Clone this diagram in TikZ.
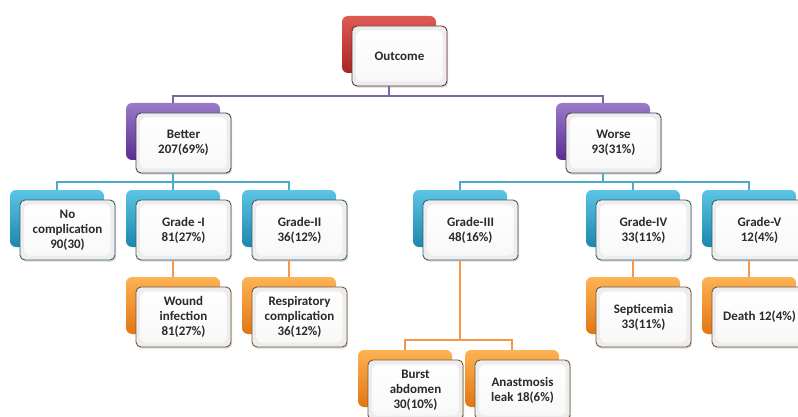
\documentclass[tikz,border=0pt]{standalone}
\usepackage{fontspec}
\setmainfont{Carlito}
\usetikzlibrary{shadows}
\definecolor{redA}{HTML}{E05A55}\definecolor{redB}{HTML}{A82424}
\definecolor{purA}{HTML}{9A7AC8}\definecolor{purB}{HTML}{5A2D92}
\definecolor{cyaA}{HTML}{5CC4E4}\definecolor{cyaB}{HTML}{1C86AE}
\definecolor{oraA}{HTML}{FDB254}\definecolor{oraB}{HTML}{E27612}
\definecolor{redE}{HTML}{6E3232}\definecolor{purE}{HTML}{4C3E5E}
\definecolor{cyaE}{HTML}{3A5F6C}\definecolor{oraE}{HTML}{7A5636}
\definecolor{purL}{HTML}{8064A2}\definecolor{cyaL}{HTML}{4BACC6}\definecolor{oraL}{HTML}{F79646}
\definecolor{txt}{HTML}{2A2A2A}
\tikzset{
  backbox/.style={rounded corners=6pt, minimum width=94pt, minimum height=57pt, inner sep=0pt, draw=none},
  frontbox/.style={rounded corners=5pt, minimum width=95pt, minimum height=60pt, inner sep=1pt,
    align=center, text=txt, font=\fontsize{13}{15}\selectfont\bfseries, line width=0.9pt,
    fill=gray!14, drop shadow={shadow xshift=1.2pt, shadow yshift=-1.6pt, opacity=0.3},
    path picture={\shade[top color=white, bottom color=gray!6]
      ([shift={(4.5pt,4.5pt)}]path picture bounding box.south west) rectangle
      ([shift={(-4.5pt,-4.5pt)}]path picture bounding box.north east);}},
  redback/.style={top color=redA, bottom color=redB}, redfront/.style={draw=redE},
  purback/.style={top color=purA, bottom color=purB}, purfront/.style={draw=purE},
  cyaback/.style={top color=cyaA, bottom color=cyaB}, cyafront/.style={draw=cyaE},
  oraback/.style={top color=oraA, bottom color=oraB}, orafront/.style={draw=oraE},
  conn/.style={line width=2.8pt},
}
\newcommand{\obox}[5]{%
  \node[backbox, #4back] (#1-b) at (#2+47, #3+28.5) {};
  \node[frontbox, #4front] (#1) at (#2+57.5, #3+40) {#5};}
\begin{document}
\begin{tikzpicture}[x=1pt, y=-1pt]
\useasboundingbox (0,0) rectangle (798,417);
\fill[white] (0,0) rectangle (798,417);
\clip (0,0) rectangle (798,417);
\coordinate (L1) at (0,96);
\coordinate (L2) at (0,182);
\coordinate (L3) at (0,340);
% boxes
\obox{out}{342}{16}{red}{Outcome}
\obox{bet}{126}{103}{pur}{Better\\207(69\%)}
\obox{wor}{556}{103}{pur}{Worse\\93(31\%)}
\obox{noc}{10}{190}{cya}{No\\complication\\90(30)}
\obox{g1}{126}{190}{cya}{Grade -I\\81(27\%)}
\obox{g2}{242}{190}{cya}{Grade-II\\36(12\%)}
\obox{g3}{413}{190}{cya}{Grade-III\\48(16\%)}
\obox{g4}{586}{190}{cya}{Grade-IV\\33(11\%)}
\obox{g5}{702}{190}{cya}{Grade-V\\12(4\%)}
\obox{wou}{126}{277}{ora}{Wound\\infection\\81(27\%)}
\obox{res}{242}{277}{ora}{Respiratory\\complication\\36(12\%)}
\obox{sep}{586}{277}{ora}{Septicemia\\33(11\%)}
\obox{dea}{702}{277}{ora}{Death 12(4\%)}
\obox{bur}{358}{350}{ora}{Burst\\abdomen\\30(10\%)}
\obox{ana}{465}{350}{ora}{Anastmosis\\leak 18(6\%)}
% connectors
\draw[conn, purL] (out-b |- out.south) -- (out-b |- L1) -| (bet-b.north);
\draw[conn, purL] (out-b |- L1) -| (wor-b.north);
\draw[conn, cyaL] (bet-b |- bet.south) -- (bet-b |- L2) -| (noc-b.north);
\draw[conn, cyaL] (bet-b |- L2) -- (g1-b.north);
\draw[conn, cyaL] (bet-b |- L2) -| (g2-b.north);
\draw[conn, cyaL] (wor-b |- wor.south) -- (wor-b |- L2) -| (g3-b.north);
\draw[conn, cyaL] (wor-b |- L2) -| (g4-b.north);
\draw[conn, cyaL] (wor-b |- L2) -| (g5-b.north);
\draw[conn, oraL] (g1-b |- g1.south) -- (wou-b.north);
\draw[conn, oraL] (g2-b |- g2.south) -- (res-b.north);
\draw[conn, oraL] (g4-b |- g4.south) -- (sep-b.north);
\draw[conn, oraL] (g5-b |- g5.south) -- (dea-b.north);
\draw[conn, oraL] (g3-b |- g3.south) -- (g3-b |- L3) -| (bur-b.north);
\draw[conn, oraL] (g3-b |- L3) -| (ana-b.north);
\end{tikzpicture}
\end{document}
